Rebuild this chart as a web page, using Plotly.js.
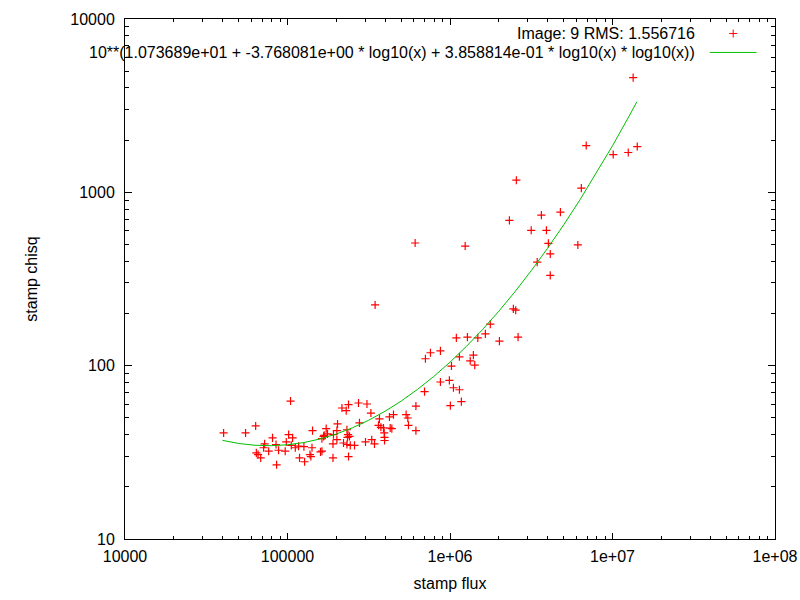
<!DOCTYPE html>
<html><head><meta charset="utf-8">
<script src="https://cdn.plot.ly/plotly-3.0.1.min.js"></script>
<style>html,body{margin:0;padding:0;background:#fff}#chart{width:800px;height:600px}</style>
</head><body><div id="chart"></div>
<script>
// Measured points (stamp flux, stamp chisq)
const flux = [
 40450, 55200, 63700, 104400, 72300, 80900, 71300, 64300, 65900, 68400,
 76600, 85000, 88100, 85700, 96800, 98300, 101600, 107500, 105500, 111700,
 117000, 126200, 141500, 118600, 127400, 137500, 139300, 159600, 142600, 166700,
 273500, 308300, 216400, 229800, 237400, 326000, 368000, 424000, 449000, 537000,
 550000, 555000, 617000, 617000, 277300, 203200, 173000, 168200, 176300, 191800,
 201300, 201300, 190500, 162900, 232100, 235600, 234000, 240800, 221200, 232100,
 243300, 258400, 190500, 237400, 162900, 302000, 330000, 343000, 363000, 375600,
 389600, 393700, 395500, 395500, 428500, 438500,
 2455000, 2537000, 1770000, 1651000, 2624000, 2014000, 1483000, 1280000, 1094000, 873000,
 758000, 706000, 1143000, 1393000, 1332000, 1420000, 1021000, 873000, 991000, 1050000,
 1143000, 697000, 1175000, 1005000,
 13400000, 6890000, 10100000, 12500000, 14200000, 2560000, 6430000, 2320000, 3650000, 4780000,
 3160000, 3920000, 4030000, 6120000, 4140000, 3440000, 4140000,
 346000, 610000, 1240000
];
const chisq = [
 40.9, 40.9, 44.9, 62.5, 35.4, 38.3, 33.6, 31.4, 30.7, 29.4,
 32.1, 35.1, 32.5, 26.8, 32.1, 36.3, 40.0, 38.3, 34.7, 33.6,
 34.3, 34.1, 33.6, 29.4, 27.9, 30.7, 29.9, 31.8, 42.2, 39.1,
 60.9, 60.1, 57.0, 55.0, 59.6, 53.3, 49.3, 50.6, 52.2, 52.2,
 49.9, 45.3, 58.5, 42.2, 46.8, 46.1, 43.3, 39.6, 40.4, 40.0,
 42.2, 37.4, 35.4, 37.9, 42.7, 40.0, 38.6, 39.1, 35.8, 35.1,
 34.7, 34.7, 29.4, 29.9, 32.1, 36.3, 37.4, 35.4, 45.3, 44.1,
 43.7, 40.9, 38.6, 37.0, 43.7, 43.3,
 212.7, 208.9, 173.5, 152.6, 146.1, 138.6, 144.7, 146.1, 144.7, 121.8,
 118.7, 109.6, 112.5, 115.1, 106.7, 100.8, 99.5, 80.5, 82.2, 74.6,
 72.6, 70.8, 62.0, 58.8,
 4590, 1862, 1652, 1697, 1837, 1175, 1058, 689, 739, 769,
 604, 604, 508, 497, 441, 396, 332,
 224, 510, 490
];
// Fitted curve
const fitFlux = [39811, 50119, 63096, 79433, 100000, 125893, 158489, 199526, 251189, 316228,
 398107, 501187, 630957, 794328, 1000000, 1258925, 1584893, 1995262, 2511886, 3162278,
 3981072, 5011872, 6309573, 7943282, 10000000, 12589254, 14125375];
const fitChisq = [37.07, 35.56, 34.74, 34.54, 34.96, 36.01, 37.76, 40.32, 43.82, 48.46,
 54.56, 62.54, 72.96, 86.65, 104.75, 128.9, 161.5, 205.9, 267.3, 353.1,
 474.9, 650.1, 906.0, 1285, 1856, 2728, 3330];

const xTickVals = [1e4, 1e5, 1e6, 1e7, 1e8];
const xTickText = ["10000", "100000", "1e+06", "1e+07", "1e+08"];
const yTickVals = [10, 100, 1000, 10000];
const yTickText = ["10", "100", "1000", "10000"];

const seriesName = "Image: 9 RMS: 1.556716";
const fitName = "10**(1.073689e+01 + -3.768081e+00 * log10(x) + 3.858814e-01 * log10(x) * log10(x))";

const font = {family: "Liberation Sans, Arial, sans-serif", size: 16, color: "#000"};
const legendFont = {family: "Liberation Sans, Arial, sans-serif", size: 16, color: "#000"};

const traces = [
 {x: flux, y: chisq, type: "scatter", mode: "markers", name: seriesName,
  marker: {symbol: "cross-thin-open", size: 5.8, color: "#ff0000", line: {color: "#ff0000", width: 1.2}}},
 {x: fitFlux, y: fitChisq, type: "scatter", mode: "lines", name: fitName,
  line: {color: "#00c000", width: 1}}
];

const axisCommon = {
 type: "log", showgrid: false, zeroline: false, showline: true, linecolor: "#000", linewidth: 1,
 mirror: "allticks", ticks: "inside", tickcolor: "#000", tickwidth: 1, tickfont: font
};

const layout = {
 width: 800, height: 600, showlegend: false,
 paper_bgcolor: "#fff", plot_bgcolor: "#fff", font: font,
 margin: {l: 124.5, r: 24.7, t: 18.5, b: 61, pad: 0},
 xaxis: Object.assign({}, axisCommon, {
  range: [4, 8], tickmode: "array", tickvals: xTickVals, ticktext: xTickText, ticklen: 6,
  ticklabelstandoff: 3,
  minor: {ticks: "inside", ticklen: 3, tickcolor: "#000", dtick: "D1"},
  title: {text: "stamp flux", font: font, standoff: 13}
 }),
 yaxis: Object.assign({}, axisCommon, {
  range: [1, 4], tickmode: "array", tickvals: yTickVals, ticktext: yTickText, ticklen: 7,
  ticklabelstandoff: 6,
  minor: {ticks: "inside", ticklen: 4, tickcolor: "#000", dtick: "D1"},
  title: {text: "stamp chisq", font: font, standoff: 28}
 }),
 annotations: [
  {xref: "paper", yref: "paper", x: 0.8796, y: 0.972, xanchor: "right", yanchor: "middle",
   text: seriesName, showarrow: false, font: legendFont},
  {xref: "paper", yref: "paper", x: 0.8796, y: 0.9357, xanchor: "right", yanchor: "middle",
   text: fitName, showarrow: false, font: legendFont}
 ],
 shapes: [
  {type: "line", xref: "paper", yref: "paper", x0: 0.8996, x1: 0.9717, y0: 0.9357, y1: 0.9357,
   line: {color: "#00c000", width: 1}},
  {type: "path", xref: "paper", yref: "paper",
   path: "M0.9295,0.972 L0.9418,0.972 M0.93565,0.9643 L0.93565,0.9797",
   line: {color: "#ff0000", width: 1}}
 ]
};

Plotly.newPlot("chart", traces, layout, {staticPlot: true, displayModeBar: false});
</script></body></html>
